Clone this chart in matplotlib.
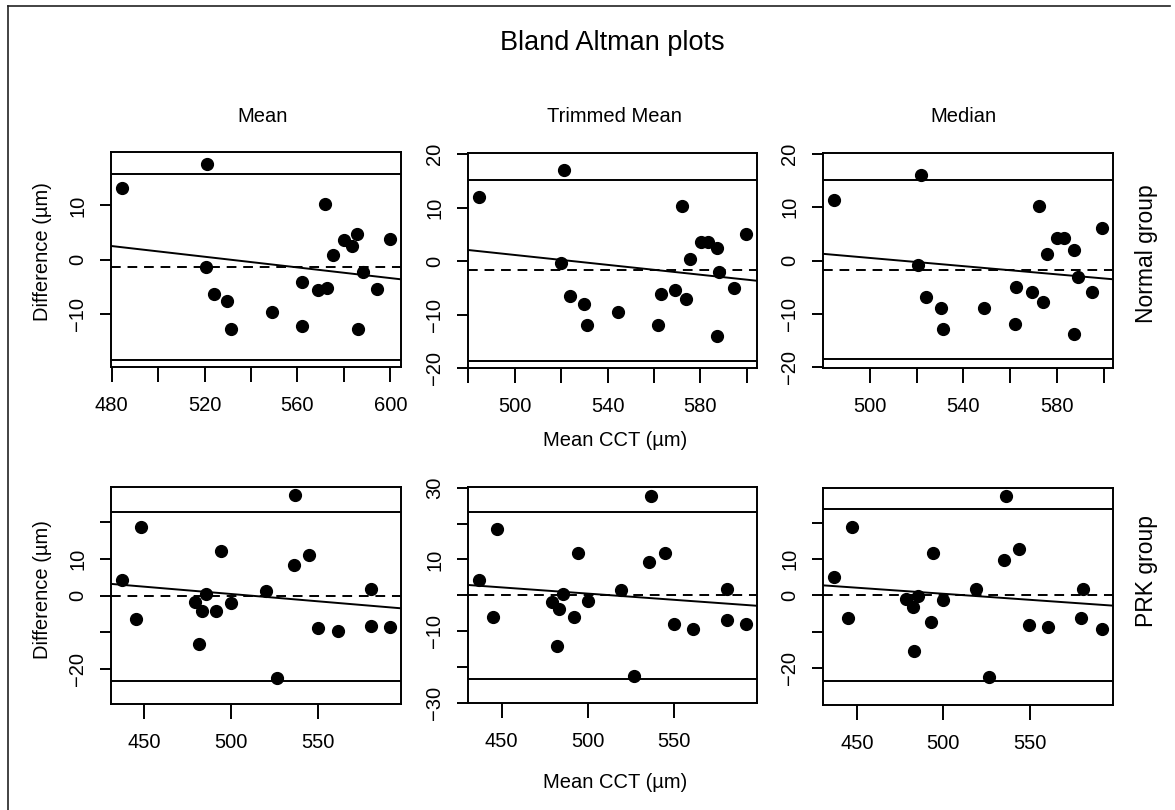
import numpy as np
import matplotlib
matplotlib.use("Agg")
import matplotlib.pyplot as plt
from matplotlib.lines import Line2D

plt.rcParams['font.family'] = ['Liberation Sans', 'DejaVu Sans']

W, H = 1175, 810

"""
DATA (read off the scanned figure)
"""

methods = ["Mean", "Trimmed Mean", "Median"]
groups = ["Normal group", "PRK group"]

# normal group: mean CCT (x) and difference (y)
normal_mean_x = [484.3, 521.0, 520.5, 524.0, 529.6, 531.2, 548.9, 561.9, 561.9, 568.7,
                 572.7, 571.7, 575.3, 580.1, 583.4, 585.7, 588.2, 586.3, 594.5, 600.0]
normal_mean_y = [13.2, 17.7, -1.3, -6.4, -7.7, -12.8, -9.8, -4.2, -12.4, -5.7,
                 -5.2, 10.3, 0.9, 3.6, 2.5, 4.7, -2.4, -12.8, -5.4, 3.8]

normal_trim_x = [484.6, 521.4, 520.0, 524.0, 529.7, 531.0, 544.6, 563.1, 561.9, 568.9,
                 573.6, 571.9, 575.7, 580.4, 583.3, 586.9, 588.1, 587.1, 594.6, 599.7]
normal_trim_y = [12.0, 17.0, -0.4, -6.5, -8.0, -12.0, -9.6, -6.1, -12.0, -5.5,
                 -7.1, 10.2, 0.4, 3.5, 3.5, 2.5, -2.0, -14.1, -5.0, 5.0]

normal_med_x = [484.6, 521.8, 520.4, 524.2, 530.3, 531.3, 548.8, 562.3, 562.1, 569.2,
                574.0, 572.3, 575.7, 580.0, 583.0, 587.1, 589.0, 587.1, 595.0, 599.3]
normal_med_y = [11.4, 15.9, -0.9, -6.9, -8.8, -12.8, -8.8, -4.9, -11.8, -5.9,
                -7.8, 10.1, 1.2, 4.2, 4.2, 2.0, -3.0, -13.8, -5.9, 6.1]

# PRK group
prk_mean_x = [437.1, 445.4, 447.9, 479.0, 481.7, 483.3, 485.4, 491.5, 494.0, 500.0,
              519.8, 526.5, 536.2, 536.7, 544.8, 550.0, 561.5, 580.4, 580.4, 591.5]
prk_mean_y = [4.3, -6.3, 18.8, -1.7, -13.2, -4.3, 0.5, -4.3, 12.2, -1.9,
              1.2, -22.6, 8.5, 27.4, 11.1, -8.7, -9.7, 1.8, -8.3, -8.5]

prk_trim_x = [436.7, 445.0, 447.5, 479.0, 481.9, 483.4, 485.4, 491.9, 494.4, 500.2,
              519.5, 526.8, 535.7, 536.5, 544.6, 549.8, 561.0, 580.9, 580.5, 591.9]
prk_trim_y = [4.4, -5.9, 18.6, -1.8, -14.0, -3.9, 0.3, -5.9, 11.9, -1.5,
              1.5, -22.4, 9.4, 27.8, 11.9, -8.0, -9.4, 1.9, -6.9, -8.0]

prk_med_x = [436.7, 444.8, 447.5, 478.3, 482.8, 482.5, 485.2, 492.6, 493.9, 499.6,
             519.1, 526.3, 535.2, 536.2, 543.7, 549.6, 560.6, 580.5, 579.3, 591.7]
prk_med_y = [5.0, -6.2, 18.8, -1.0, -15.2, -3.2, -0.1, -7.2, 11.7, -1.2,
             1.8, -22.3, 9.7, 27.3, 12.8, -8.2, -8.7, 1.8, -6.1, -9.3]

# bias (dashed), limits of agreement, regression (intercept, slope)
bias = [-1.4, -1.7, -1.8, -0.2, 0.0, 0.1]
upper_loa = [15.8, 15.2, 15.0, 23.0, 23.3, 23.6]
lower_loa = [-18.6, -18.6, -18.5, -23.3, -23.2, -23.4]
reg_intercept = [26.2, 24.29, 19.68, 20.46, 17.79, 17.1]
reg_slope = [-0.0494, -0.0463, -0.0384, -0.0400, -0.0346, -0.0333]

ylims = [(-19.9, 19.9), (-20.0, 20.2), (-20.1, 20.1),
         (-29.6, 29.7), (-30.0, 30.2), (-30.1, 29.5)]
yticks = [[-10, 0, 10], [-20, -10, 0, 10, 20], [-20, -10, 0, 10, 20],
          [-20, -10, 0, 10, 20], [-30, -20, -10, 0, 10, 20, 30], [-20, -10, 0, 10, 20]]
ylabels_shown = [[-10, 0, 10], [-20, -10, 0, 10, 20], [-20, -10, 0, 10, 20],
                 [-20, 0, 10], [-30, -10, 10, 30], [-20, 0, 10]]
xticks_top = [480, 500, 520, 540, 560, 580, 600]
xticks_bottom = [450, 500, 550]
xlabels_shown = [[480, 520, 560, 600], [500, 540, 580], [500, 540, 580],
                 [450, 500, 550], [450, 500, 550], [450, 500, 550]]

# panel boxes in pixels (x0, y0, x1, y1)
boxes = [(111, 152, 401, 367), (468, 153, 757, 368), (823, 153, 1113, 368),
         (111, 487, 401, 704), (468, 487, 757, 703), (823, 488, 1113, 705)]

LW = 1.4
FS = 14.5


def px_axes(fig, box):
    x0, y0, x1, y1 = box
    return fig.add_axes([x0 / W, 1 - y1 / H, (x1 - x0) / W, (y1 - y0) / H])


def fmt(v):
    return str(v).replace("-", "\u2212")


def panel(ax, i, x, y):
    ax.plot(x, y, 'o', color='black', markersize=8.5, zorder=3)
    ax.axhline(upper_loa[i], color='black', lw=LW)
    ax.axhline(lower_loa[i], color='black', lw=LW)
    ax.axhline(bias[i], color='black', lw=LW, ls=(0, (5, 3.5)))
    ax.axline((0, reg_intercept[i]), slope=reg_slope[i], color='black', lw=LW)

    lo, hi = min(x), max(x)
    pad = 0.04 * (hi - lo)
    ax.set_xlim(lo - pad, hi + pad)
    ax.set_ylim(*ylims[i])

    xt = xticks_top if i < 3 else xticks_bottom
    xt = [t for t in xt if lo - pad <= t <= hi + pad]
    ax.set_xticks(xt)
    ax.set_xticklabels([fmt(t) if t in xlabels_shown[i] else "" for t in xt])
    ax.set_yticks(yticks[i])
    ax.set_yticklabels([fmt(t) if t in ylabels_shown[i] else "" for t in yticks[i]])

    for s in ax.spines.values():
        s.set_linewidth(LW)
    ax.tick_params(axis='x', direction='out', length=10.8, width=LW, pad=10, labelsize=FS)
    ax.tick_params(axis='y', direction='out', length=8, width=LW, pad=9, labelsize=FS)
    for lab in ax.get_yticklabels():
        lab.set_rotation(90)
        lab.set_va('center')


def main():
    fig = plt.figure(figsize=(W / 100, H / 100), dpi=100)

    series = [(normal_mean_x, normal_mean_y), (normal_trim_x, normal_trim_y),
              (normal_med_x, normal_med_y), (prk_mean_x, prk_mean_y),
              (prk_trim_x, prk_trim_y), (prk_med_x, prk_med_y)]
    for i, (x, y) in enumerate(series):
        ax = px_axes(fig, boxes[i])
        panel(ax, i, x, y)

    def t(px, py, s, **kw):
        fig.text(px / W, 1 - py / H, s, ha='center', va='center', **kw)

    t(612, 43, "Bland Altman plots", fontsize=19.5)
    for cx, m in zip([263, 614, 963], methods):
        t(cx, 116, m, fontsize=FS)
    t(42, 252, "Difference (\u00b5m)", fontsize=FS, rotation=90)
    t(42, 590, "Difference (\u00b5m)", fontsize=FS, rotation=90)
    t(615, 440, "Mean CCT (\u00b5m)", fontsize=FS)
    t(615, 782, "Mean CCT (\u00b5m)", fontsize=FS)
    t(1146, 254, groups[0], fontsize=16.5, rotation=90)
    t(1146, 571, groups[1], fontsize=16.5, rotation=90)

    # scan frame: left and top edges only
    fig.add_artist(Line2D([8 / W, 8 / W], [0, 1 - 6 / H], color='#222222', lw=1.2))
    fig.add_artist(Line2D([8 / W, 1170 / W], [1 - 6 / H, 1 - 6 / H], color='#222222', lw=1.2))

    fig.savefig("out.png", dpi=100, facecolor='white')


main()
